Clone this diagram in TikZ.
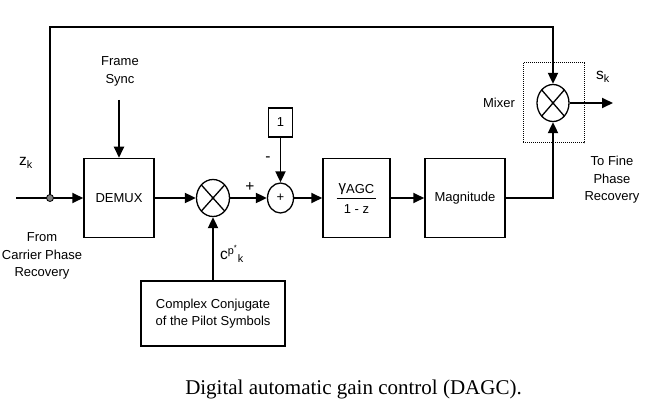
\documentclass[tikz,border=0pt]{standalone}
\usepackage{fontspec}
\setmainfont{Liberation Sans}
\newfontfamily\capfont{Liberation Serif}
\usetikzlibrary{calc, arrows.meta, shapes.geometric}
\tikzset{
	every node/.style={font=\fontsize{13}{17.5}\selectfont, align=center},
	blk/.style={draw, line width=1.5pt, inner sep=0pt},
	mult/.style={draw, ellipse, line width=1.3pt, minimum width=33pt, minimum height=37pt, inner sep=0pt,
		path picture={\draw[line width=1.3pt] (path picture bounding box.north east) -- (path picture bounding box.south west)
			(path picture bounding box.north west) -- (path picture bounding box.south east);}},
	sym/.style={font=\fontsize{15.5}{18}\selectfont},
	wire/.style={line width=1.9pt},
	sig/.style={wire, -{Triangle[length=11pt,width=10pt]}},
}

\begin{document}
\begin{tikzpicture}[x=1pt, y=1pt]
	\useasboundingbox (0,0) rectangle (654,416);
	
%%%%     BLOCS     %%%%
	
	\node[blk, minimum width=70pt, minimum height=79pt] (demux) at (119,218) {DEMUX};
	\node[mult] (m1) at (213,218) {};
	\node[draw, ellipse, line width=1.3pt, minimum width=26pt, minimum height=30pt, inner sep=0pt] (add) at (280.5,218) {+};
	\node[blk, minimum width=24pt, minimum height=29pt] (one) at (280.5,293.5) {1};
	\node[blk, minimum width=67pt, minimum height=79pt] (gain) at (356.5,218)
		{\renewcommand{\arraystretch}{1.25}\begin{tabular}{@{\hspace{2pt}}c@{\hspace{2pt}}}{\fontsize{15}{15}\selectfont γ}\raisebox{-2pt}{AGC}\\\hline 1 - z\end{tabular}};
	\node[blk, minimum width=80pt, minimum height=79pt] (mag) at (465,218) {Magnitude};
	\node[mult, minimum width=32pt] (mix) at (553,313) {};
	\node[draw, densely dotted, line width=1pt, minimum width=61pt, minimum height=80pt] (mixbox) at (553.5,313) {};
	\node[blk, minimum width=144pt, minimum height=65pt] (conj) at (213,102.5) {Complex Conjugate\\of the Pilot Symbols};
	
	% labels
	\node (fsync) at (120,344.5) {Frame\\Sync};
	\node[sym] (zk) at (26,253) {z\textsubscript{k}};
	\node (from) at (42,160) {From\\Carrier Phase\\Recovery};
	\node[sym, anchor=west, inner sep=0pt] (ck) at (220,162) {c\textsuperscript{p\textsuperscript{*}}\textsubscript{k}};
	\node[sym] (plus) at (250,229) {+};
	\node[sym] (minus) at (268,257) {-};
	\node (mixlbl) at (499,313) {Mixer};
	\node[sym] (sk) at (603,339) {s\textsubscript{k}};
	\node (tofine) at (612,236) {To Fine\\Phase\\Recovery};
	\node[font=\capfont\fontsize{21}{24}\selectfont] (cap) at (353.5,27) {Digital automatic gain control (DAGC).};
	
%%%%     LIAISONS     %%%%
	
	\coordinate (in) at (16,218);
	\coordinate (jn) at (50,218);
	\coordinate (fstop) at (119,316);
	\coordinate (tr) at (553,389);
	\coordinate (out) at (613,313);
	
	\draw[wire] (in) -- (jn);
	\draw[sig] (jn) -- (demux);
	\draw[sig] (fstop) -- (demux);
	\draw[sig] (demux) -- (m1);
	\draw[sig] (conj) -- (m1);
	\draw[sig] (m1) -- (add);
	\draw[sig] (one) -- (add);
	\draw[sig] (add) -- (gain);
	\draw[sig] (gain) -- (mag);
	\draw[sig] (mag.east) -| (mix.south);
	\draw[sig] (jn) |- (tr) -- (mix.north);
	\draw[sig] (mix) -- (out);
	
	% point de branchement
	\filldraw[fill=gray, line width=0.8pt] (jn) circle (3.5pt);
	
\end{tikzpicture}
\end{document}
